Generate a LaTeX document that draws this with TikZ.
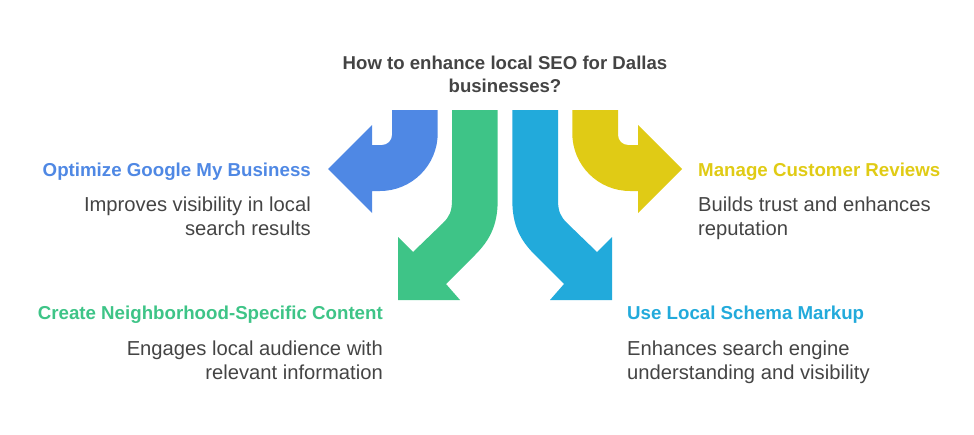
\documentclass[tikz,border=0pt]{standalone}
\usepackage{fontspec}
\setmainfont{Liberation Sans}
\definecolor{cblue}{HTML}{4F88E4}
\definecolor{cgreen}{HTML}{3EC487}
\definecolor{ccyan}{HTML}{22AADB}
\definecolor{cyel}{HTML}{E0CB15}
\definecolor{ctxt}{HTML}{444444}
\begin{document}
\begin{tikzpicture}[x=1pt,y=-1pt,
  ttl/.style={font=\bfseries\fontsize{18.6}{23}\selectfont,text=ctxt,align=center},
  lbl/.style={font=\bfseries\fontsize{18.7}{20}\selectfont,inner sep=0pt},
  dsc/.style={font=\fontsize{20.2}{24}\selectfont,text=ctxt,inner sep=0pt}]
\useasboundingbox (0,0) rectangle (974,434);
% blue
\fill[cblue] (392,110) -- (392,135) arc[start angle=0,end angle=90,radius=10] -- (372,145) -- (372,125) -- (328,169) -- (372,213) -- (372,191) -- (380,191) arc[start angle=90,end angle=0,radius=57.7] -- (437.7,110) -- cycle;
% yellow
\fill[cyel] (618,110) -- (618,135) arc[start angle=180,end angle=90,radius=10] -- (638,145) -- (638,125) -- (682,169) -- (638,213) -- (638,191) -- (630,191) arc[start angle=90,end angle=180,radius=57.7] -- (572.3,110) -- cycle;
% green
\fill[cgreen] (452,110) -- (452,200) .. controls (452,212) and (449,217) .. (443,223) -- (413,252) -- (398,237) -- (398,300) -- (460,300) -- (446,284) -- (475,255) .. controls (490,240) and (497.7,225) .. (497.7,200) -- (497.7,110) -- cycle;
% cyan
\fill[ccyan] (558,110) -- (558,200) .. controls (558,212) and (561,217) .. (567,223) -- (597,252) -- (612,237) -- (612,300) -- (550,300) -- (564,284) -- (535,255) .. controls (520,240) and (512.3,225) .. (512.3,200) -- (512.3,110) -- cycle;
\node[ttl] (t) at (505,74) {How to enhance local SEO for Dallas\\businesses?};
\node[lbl,text=cblue,anchor=east] (l1) at (311,172) {Optimize Google My Business};
\node[dsc,anchor=north east,align=right] (d1) at (311,197) {Improves visibility in local\\search results};
\node[lbl,text=cgreen,anchor=east] (l2) at (383,315) {Create Neighborhood-Specific Content};
\node[dsc,anchor=north east,align=right] (d2) at (383,341) {Engages local audience with\\relevant information};
\node[lbl,text=cyel,anchor=west] (l3) at (698,172) {Manage Customer Reviews};
\node[dsc,anchor=north west,align=left] (d3) at (698,197) {Builds trust and enhances\\reputation};
\node[lbl,text=ccyan,anchor=west] (l4) at (627,315) {Use Local Schema Markup};
\node[dsc,anchor=north west,align=left] (d4) at (627,341) {Enhances search engine\\understanding and visibility};
\end{tikzpicture}
\end{document}
